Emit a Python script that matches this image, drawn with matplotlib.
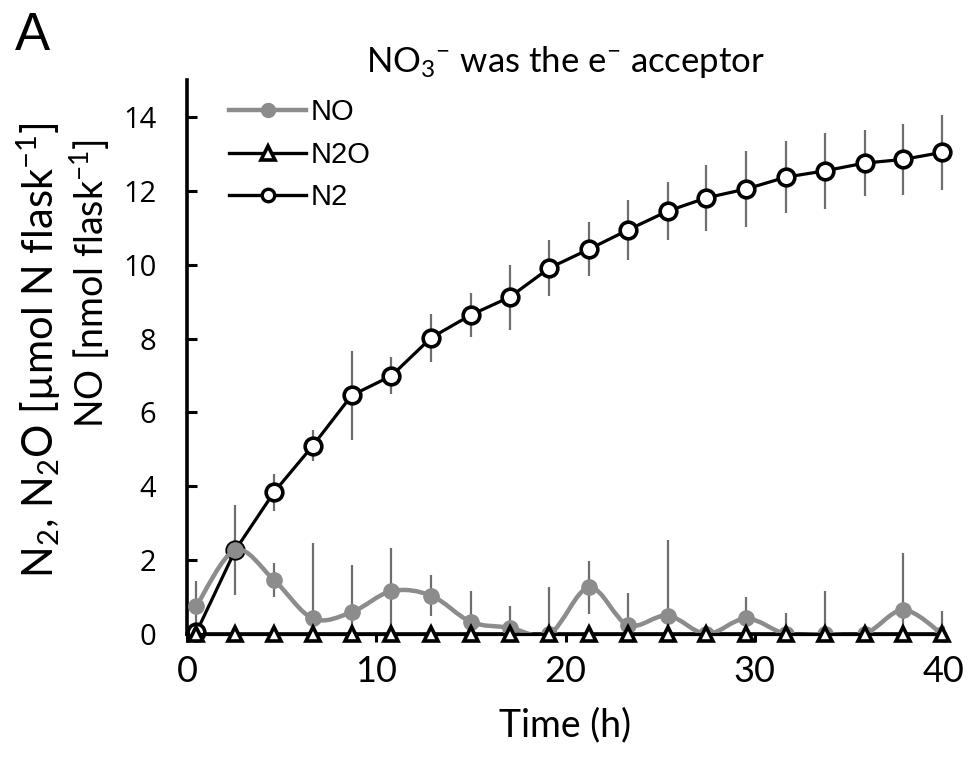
import numpy as np
import matplotlib
matplotlib.use("Agg")
import matplotlib.pyplot as plt
from matplotlib.path import Path
from matplotlib.patches import PathPatch
from matplotlib.lines import Line2D

plt.rcParams['mathtext.fontset'] = 'custom'
plt.rcParams['mathtext.rm'] = 'Lato'
plt.rcParams['mathtext.it'] = 'Lato:italic'
plt.rcParams['mathtext.bf'] = 'Lato:bold'

# ---- data ----
time_h = [0.5, 2.55, 4.6, 6.65, 8.7, 10.8, 12.9, 15.0, 17.05, 19.15,
          21.25, 23.3, 25.4, 27.45, 29.55, 31.65, 33.7, 35.8, 37.85, 39.9]
no_vals = [0.76, 2.27, 1.46, 0.42, 0.59, 1.16, 1.04, 0.33, 0.17, 0.0,
           1.26, 0.24, 0.50, 0.0, 0.42, 0.0, 0.0, 0.0, 0.65, 0.0]
no_err = [0.68, 1.22, 0.45, 2.05, 1.28, 1.16, 0.55, 0.83, 0.59, 1.28,
          0.73, 0.86, 2.05, 0.0, 0.59, 0.58, 1.17, 0.0, 1.53, 0.63]
n2o_vals = [0.0] * 20
n2_vals = [0.05, 2.27, 3.84, 5.10, 6.46, 6.99, 8.02, 8.64, 9.12, 9.91,
           10.42, 10.94, 11.45, 11.81, 12.05, 12.37, 12.54, 12.75, 12.85, 13.04]
n2_err = [0.0, 0.3, 0.5, 0.42, 1.2, 0.5, 0.65, 0.6, 0.88, 0.75,
          0.73, 0.81, 0.78, 0.89, 1.03, 0.98, 1.02, 0.89, 0.96, 1.02]
x_ticks = [0, 10, 20, 30, 40]
y_ticks = [0, 2, 4, 6, 8, 10, 12, 14]

GRAY = '#8c8c8c'
ERRC = '#6e6e6e'

fig = plt.figure(figsize=(9.75, 7.63), dpi=100)
ax = fig.add_axes([187/975, 1-634/763, (944-187)/975, (634-80)/763])

# error bars
ax.errorbar(time_h, n2_vals, yerr=n2_err, fmt='none', ecolor=ERRC, elinewidth=1.6, capsize=0, zorder=2)
ax.errorbar(time_h, no_vals, yerr=no_err, fmt='none', ecolor=ERRC, elinewidth=1.6, capsize=0, zorder=2)

# N2
ax.plot(time_h, n2_vals, color='black', lw=2.3, marker='o', ms=12, mfc='white',
        mec='black', mew=2.6, zorder=3, clip_on=False)

# NO smoothed line (Catmull-Rom style Bezier through the data points)
pts = np.column_stack([time_h, no_vals])
verts = [pts[0]]
codes = [Path.MOVETO]
n = len(pts)
for i in range(n - 1):
    p0 = pts[i - 1] if i > 0 else pts[i]
    p1 = pts[i]
    p2 = pts[i + 1]
    p3 = pts[i + 2] if i + 2 < n else pts[i + 1]
    c1 = p1 + (p2 - p0) / 6.0
    c2 = p2 - (p3 - p1) / 6.0
    verts += [c1, c2, p2]
    codes += [Path.CURVE4] * 3
ax.add_patch(PathPatch(Path(verts, codes), fill=False, edgecolor=GRAY, lw=3.2,
                       zorder=4, capstyle='round', joinstyle='round'))
ax.plot(time_h, no_vals, linestyle='none', marker='o', ms=11, color=GRAY, zorder=4)

# N2O
ax.plot(time_h, n2o_vals, color='black', lw=2.3, marker='^', ms=10, mfc='white',
        mec='black', mew=2.6, zorder=5, clip_on=False)

ax.set_xlim(0, 40)
ax.set_ylim(0, 15)
ax.set_xticks(x_ticks)
ax.set_yticks(y_ticks)
for s in ['top', 'right']:
    ax.spines[s].set_visible(False)
for s in ['left', 'bottom']:
    ax.spines[s].set_linewidth(2.6)
ax.tick_params(axis='y', direction='in', length=7, width=2.2, labelsize=21, pad=22)
ax.tick_params(axis='x', direction='out', length=6, width=2.2, labelsize=26, pad=9)
for lab in ax.get_yticklabels():
    lab.set_fontfamily('Open Sans')
for lab in ax.get_xticklabels():
    lab.set_fontfamily('Lato')

ax.set_xlabel('Time (h)', fontsize=27, family='Lato', labelpad=14)
ax.set_title(r'NO$_3$$^{-}$ was the e$^{-}$ acceptor', fontsize=25, family='Lato', pad=3)

fig.text(39/975, 1-350/763, r'N$_2$, N$_2$O [µmol N flask$^{-1}$]', rotation=90,
         ha='center', va='center', fontsize=30, family='Lato')
fig.text(90/975, 1-283/763, r'NO [nmol flask$^{-1}$]', rotation=90,
         ha='center', va='center', fontsize=27, family='Lato')
fig.text(15/975, 1-50/763, 'A', fontsize=38, family='Liberation Sans', ha='left', va='baseline')

handles = [Line2D([], [], color=GRAY, lw=3.2, marker='o', ms=10),
           Line2D([], [], color='black', lw=2.4, marker='^', ms=10, mfc='white', mec='black', mew=2.6),
           Line2D([], [], color='black', lw=2.4, marker='o', ms=9, mfc='white', mec='black', mew=2.4)]
ax.legend(handles, ['NO', 'N2O', 'N2'], loc='upper left', bbox_to_anchor=(0.023, 1.012),
          frameon=False, prop={'family': 'Liberation Sans', 'size': 21},
          handlelength=2.65, handletextpad=0.15, labelspacing=0.5, borderaxespad=0.45)

fig.savefig('out.png', dpi=100)
